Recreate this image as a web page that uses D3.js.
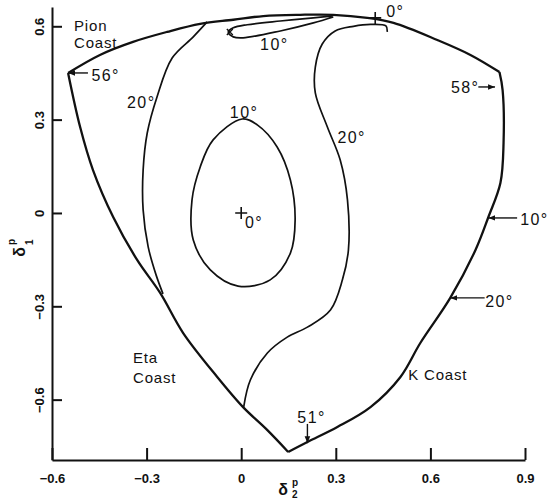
<!DOCTYPE html>
<html>
<head>
<meta charset="utf-8">
<script src="https://cdn.jsdelivr.net/npm/d3@7"></script>
<style>
  body { margin: 0; background: #fff; }
  svg { display: block; }
  .note { font-family: "Liberation Sans", Arial, sans-serif; font-size: 15px; fill: #111; letter-spacing: 0.8px; }
  .note.deg { font-size: 16px; letter-spacing: 1.4px; }
  .tick text { font-family: "Liberation Sans", Arial, sans-serif; font-size: 13px; font-weight: bold; fill: #111; }
  .edge { fill: none; stroke: #111; stroke-width: 2.3; stroke-linejoin: miter; }
  .contour { fill: none; stroke: #111; stroke-width: 1.7; }
</style>
</head>
<body>
<div id="chart"></div>
<script>
var svgWidth = 553;
var svgHeight = 502;

// tick values and labels
var xTicks = [-0.6, -0.3, 0, 0.3, 0.6, 0.9];
var xTickLabels = ["\u22120.6", "\u22120.3", "0", "0.3", "0.6", "0.9"];
var yTicks = [-0.6, -0.3, 0, 0.3, 0.6];
var yTickLabels = ["\u22120.6", "\u22120.3", "0", "0.3", "0.6"];

// boundary of the physical region, [delta2, delta1]
var pionCoast = [[-0.549, 0.450], [-0.448, 0.508], [-0.343, 0.550], [-0.235, 0.582], [-0.130, 0.608],
  [-0.025, 0.621], [0.070, 0.633], [0.187, 0.637], [0.292, 0.637], [0.400, 0.627], [0.483, 0.611],
  [0.622, 0.556], [0.727, 0.508], [0.819, 0.453]];
var kCoast = [[0.819, 0.453], [0.829, 0.395], [0.832, 0.225], [0.822, 0.096], [0.784, -0.013],
  [0.743, -0.119], [0.663, -0.273], [0.568, -0.418], [0.505, -0.527], [0.410, -0.624],
  [0.305, -0.688], [0.210, -0.736], [0.149, -0.768]];
var etaCoast = [[-0.549, 0.450], [-0.511, 0.277], [-0.470, 0.138], [-0.406, -0.013], [-0.330, -0.151],
  [-0.257, -0.257], [-0.184, -0.386], [-0.076, -0.527], [0.006, -0.624], [0.083, -0.698], [0.149, -0.768]];

// contours
var contour20Left = [[-0.108, 0.614], [-0.152, 0.566], [-0.219, 0.498], [-0.267, 0.373], [-0.298, 0.257],
  [-0.311, 0.138], [-0.311, 0.010], [-0.295, -0.109], [-0.270, -0.199], [-0.248, -0.260]];
var contour20Right = [[0.463, 0.582], [0.459, 0.601], [0.410, 0.606], [0.356, 0.600], [0.298, 0.585],
  [0.257, 0.543], [0.235, 0.469], [0.235, 0.386], [0.273, 0.277], [0.314, 0.170], [0.337, 0.042],
  [0.340, -0.119], [0.321, -0.215], [0.283, -0.312], [0.210, -0.367], [0.146, -0.399],
  [0.083, -0.450], [0.029, -0.537], [0.008, -0.623]];
var contour10Oval = [[0.003, 0.302], [0.051, 0.283], [0.114, 0.212], [0.156, 0.106], [0.171, -0.023],
  [0.156, -0.129], [0.092, -0.215], [-0.010, -0.235], [-0.098, -0.183], [-0.152, -0.087],
  [-0.156, 0.042], [-0.130, 0.148], [-0.089, 0.235]];
var contour10Loop = [[0.292, 0.633], [0.229, 0.627], [0.124, 0.617], [0.019, 0.605], [-0.025, 0.595],
  [-0.041, 0.582], [-0.025, 0.566], [0.006, 0.563], [0.124, 0.585], [0.229, 0.611], [0.292, 0.630]];

// minima and the small cross
var plusMarks = [[0, 0], [0.425, 0.627]];
var crossMark = [-0.036, 0.582];

// annotations: text, delta2, delta1, is an angle
var notes = [
  ["Pion", -0.530, 0.585, 0], ["Coast", -0.530, 0.530, 0],
  ["56\u00b0", -0.475, 0.425, 1], ["20\u00b0", -0.362, 0.338, 1],
  ["10\u00b0", -0.036, 0.305, 1], ["10\u00b0", 0.060, 0.525, 1],
  ["0\u00b0", 0.460, 0.630, 1], ["0\u00b0", 0.012, -0.048, 1],
  ["58\u00b0", 0.665, 0.386, 1], ["20\u00b0", 0.305, 0.225, 1],
  ["10\u00b0", 0.885, -0.039, 1], ["20\u00b0", 0.774, -0.303, 1],
  ["K Coast", 0.530, -0.536, 0], ["Eta", -0.343, -0.482, 0], ["Coast", -0.343, -0.546, 0],
  ["51\u00b0", 0.178, -0.675, 1]
];
// arrows: from [delta2, delta1] to [delta2, delta1]
var arrows = [
  [[-0.486, 0.450], [-0.549, 0.450]],
  [[0.752, 0.405], [0.805, 0.405]],
  [[0.875, -0.016], [0.784, -0.016]],
  [[0.772, -0.273], [0.663, -0.273]],
  [[0.210, -0.678], [0.210, -0.740]]
];

var svg = d3.select("#chart")
  .append("svg")
  .attr("width", svgWidth)
  .attr("height", svgHeight);

svg.append("defs").append("marker")
  .attr("id", "head")
  .attr("viewBox", "0 0 10 10")
  .attr("refX", 10)
  .attr("refY", 5)
  .attr("markerWidth", 7)
  .attr("markerHeight", 7)
  .attr("markerUnits", "userSpaceOnUse")
  .attr("orient", "auto")
  .append("path")
  .attr("d", "M0,1 L10,5 L0,9 Z")
  .attr("fill", "#111");

var x = d3.scaleLinear().domain([-0.6, 0.9]).range([52, 525]);
var y = d3.scaleLinear().domain([-0.794, 0.662]).range([460, 7]);

// axes
var bottomAxis = d3.axisBottom(x)
  .tickValues(xTicks)
  .tickFormat(function(d, i) { return xTickLabels[i]; })
  .tickSizeInner(-12)
  .tickSizeOuter(0);
var leftAxis = d3.axisLeft(y)
  .tickValues(yTicks)
  .tickFormat(function(d, i) { return yTickLabels[i]; })
  .tickSizeInner(-10)
  .tickSizeOuter(0);

var gx = svg.append("g")
  .attr("transform", "translate(0,460)")
  .call(bottomAxis);
gx.selectAll("text").attr("y", 23).attr("dy", 0);

var gy = svg.append("g")
  .attr("transform", "translate(52,0)")
  .call(leftAxis);
gy.selectAll("text")
  .attr("transform", "rotate(-90)")
  .attr("x", 0).attr("y", -8).attr("dy", 0)
  .attr("text-anchor", "middle");

svg.selectAll(".domain, .tick line")
  .attr("stroke", "#111")
  .attr("stroke-width", 2);

// axis titles
var yt = svg.append("g").attr("transform", "translate(25,252) rotate(-90)")
  .style("font-family", "Liberation Sans, Arial, sans-serif").style("font-weight", "bold").attr("fill", "#111");
yt.append("text").attr("text-anchor", "middle").style("font-size", "16px").text("\u03b4");
yt.append("text").attr("x", 7).attr("y", 8).style("font-size", "10px").text("1");
yt.append("text").attr("x", 7).attr("y", -10).style("font-size", "10px").text("p");

var xt = svg.append("g").attr("transform", "translate(283,495)")
  .style("font-family", "Liberation Sans, Arial, sans-serif").style("font-weight", "bold").attr("fill", "#111");
xt.append("text").attr("text-anchor", "middle").style("font-size", "16px").text("\u03b4");
xt.append("text").attr("x", 9).attr("y", 3).style("font-size", "10px").text("2");
xt.append("text").attr("x", 9).attr("y", -9).style("font-size", "10px").text("p");

// curves
var smoothLine = d3.line()
  .x(function(d) { return x(d[0]); })
  .y(function(d) { return y(d[1]); })
  .curve(d3.curveCatmullRom.alpha(0.5));
var closedLine = d3.line()
  .x(function(d) { return x(d[0]); })
  .y(function(d) { return y(d[1]); })
  .curve(d3.curveCatmullRomClosed.alpha(0.5));

[pionCoast, kCoast, etaCoast].forEach(function(c) {
  svg.append("path").attr("class", "edge").attr("d", smoothLine(c));
});
[contour20Left, contour20Right, contour10Loop].forEach(function(c) {
  svg.append("path").attr("class", "contour").attr("d", smoothLine(c));
});
svg.append("path").attr("class", "contour").attr("d", closedLine(contour10Oval));

// markers
plusMarks.forEach(function(p) {
  var px = x(p[0]), py = y(p[1]);
  svg.append("path")
    .attr("d", "M" + (px - 6) + "," + py + "H" + (px + 6) + "M" + px + "," + (py - 6) + "V" + (py + 6))
    .attr("stroke", "#111").attr("stroke-width", 1.6).attr("fill", "none");
});
var cx = x(crossMark[0]), cy = y(crossMark[1]);
svg.append("path")
  .attr("d", "M" + (cx - 3) + "," + (cy - 3) + "L" + (cx + 3) + "," + (cy + 3) +
    "M" + (cx + 3) + "," + (cy - 3) + "L" + (cx - 3) + "," + (cy + 3))
  .attr("stroke", "#111").attr("stroke-width", 1.4);

// arrows
svg.selectAll(".arrow")
  .data(arrows)
  .enter()
  .append("line")
  .attr("class", "arrow")
  .attr("x1", function(d) { return x(d[0][0]); })
  .attr("y1", function(d) { return y(d[0][1]); })
  .attr("x2", function(d) { return x(d[1][0]); })
  .attr("y2", function(d) { return y(d[1][1]); })
  .attr("stroke", "#111")
  .attr("stroke-width", 1.4)
  .attr("marker-end", "url(#head)");

// labels
svg.selectAll(".note")
  .data(notes)
  .enter()
  .append("text")
  .attr("class", function(d) { return d[3] ? "note deg" : "note"; })
  .attr("x", function(d) { return x(d[1]); })
  .attr("y", function(d) { return y(d[2]); })
  .text(function(d) { return d[0]; });
</script>
</body>
</html>
